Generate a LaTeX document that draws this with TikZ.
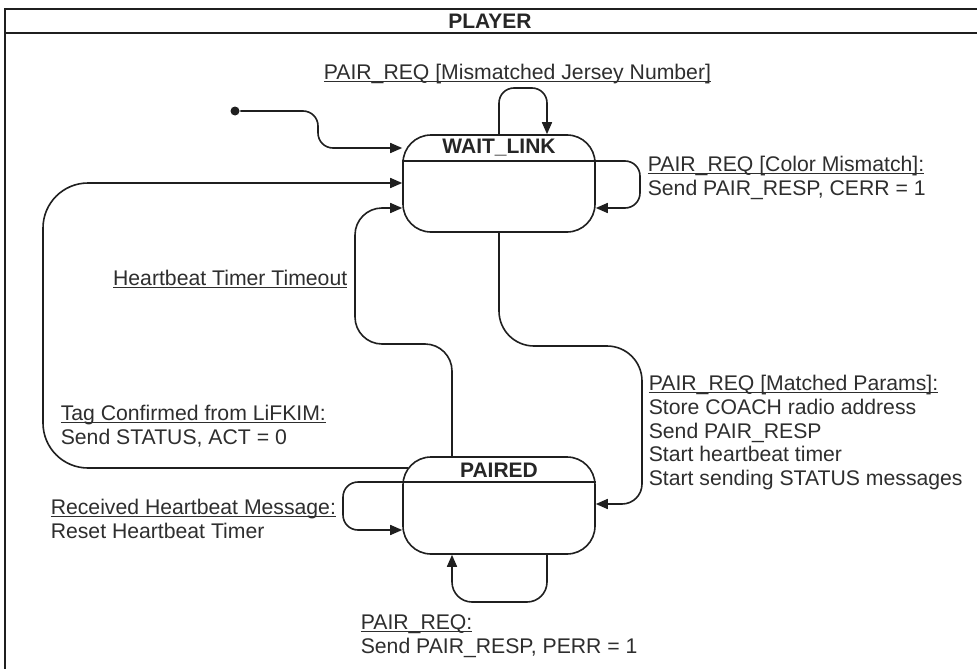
\documentclass[tikz,border=0pt]{standalone}
\usepackage{fontspec}
\setmainfont{Liberation Sans}
\usetikzlibrary{arrows.meta,calc}
\newcommand\myul[1]{\underline{\smash{#1}}}
\begin{document}
\begin{tikzpicture}[x=1pt,y=-1pt,
  line width=1.6pt, draw=black!88,
  lbl/.style={font=\fontsize{21.2}{23.7}\selectfont, text=black!82, inner sep=0pt, align=left},
  ttl/.style={font=\bfseries\fontsize{21}{24}\selectfont, text=black!85, inner sep=0pt},
  statebox/.style={draw, rounded corners=28pt, minimum width=192pt, minimum height=97pt, inner sep=0pt},
  arr/.style={-{Triangle[length=12pt,width=10pt]}},
  dot/.style={circle, fill=black!88, inner sep=0pt, minimum size=9pt},
]
\useasboundingbox (0,0) rectangle (977,669);
\fill[white] (0,0) rectangle (977,669);
\clip (0,0) rectangle (977,669);

% outer frame
\draw (5,700) -- (5,9) -- (995,9);
\draw (5,33) -- (995,33);
\node[ttl] (player) at (490,21) {PLAYER};

% states
\node[statebox] (wl) at (499,183.5) {};
\draw (wl.west |- 0,161) -- (wl.east |- 0,161);
\node[ttl] (wlt) at (499,148) {WAIT\_LINK};

\node[statebox] (pa) at (499,505.5) {};
\draw (pa.west |- 0,482) -- (pa.east |- 0,482);
\node[ttl] (pat) at (499,470) {PAIRED};

% initial
\node[dot] (init) at (235,111) {};
\draw[arr, rounded corners=15pt] (init) -- (318,111) -- (318,148) -- (wl.west |- 0,148);

% top self loop
\draw[arr, rounded corners=15pt] (wl.north) -- (499,88) -- (547,88) -- (wl.north -| 547,0);
\node[lbl, anchor=north west] (l1) at (323,79) {\myul{PAIR\_REQ [Mismatched Jersey Number]}};

% right self loop
\draw[arr, rounded corners=15pt] (wl.east |- 0,161) -- (640,161) -- (640,208) -- (wl.east |- 0,208);
\node[lbl, anchor=north west] (l2) at (647,171) {\myul{PAIR\_REQ [Color Mismatch]:}\\Send PAIR\_RESP, CERR = 1};

% matched params
\draw[arr, rounded corners=35pt] (wl.south) -- (499,346) -- (642,346) [rounded corners=20pt] -- (642,504) -- (pa.east |- 0,504);
\node[lbl, anchor=north west] (l3) at (648,390) {\myul{PAIR\_REQ [Matched Params]:}\\Store COACH radio address\\Send PAIR\_RESP\\Start heartbeat timer\\Start sending STATUS messages};

% heartbeat timeout
\draw[arr, rounded corners=27pt] (pa.north -| 452,0) -- (452,344) -- (355,344) -- (355,208) -- (wl.west |- 0,208);
\node[lbl, anchor=north east] (l4) at (348,285) {\myul{Heartbeat Timer Timeout}};

% tag confirmed
\draw[arr, rounded corners=45pt] ($(pa.west |- 0,468)+(6,0)$) -- (43,468) -- (43,183) -- (wl.west |- 0,183);
\node[lbl, anchor=north west] (l5) at (60,420) {\myul{Tag Confirmed from LiFKIM:}\\Send STATUS, ACT = 0};

% received heartbeat loop
\draw[arr, rounded corners=15pt] (pa.west |- 0,482) -- (343,482) -- (343,530) -- (pa.west |- 0,530);
\node[lbl, anchor=north west] (l6) at (50,514) {\myul{Received Heartbeat Message:}\\Reset Heartbeat Timer};

% bottom loop
\draw[arr, rounded corners=20pt] (pa.south -| 547,0) -- (547,602) -- (452,602) -- (pa.south -| 452,0);
\node[lbl, anchor=north west] (l7) at (360,629) {\myul{PAIR\_REQ:}\\Send PAIR\_RESP, PERR = 1};
\end{tikzpicture}
\end{document}
